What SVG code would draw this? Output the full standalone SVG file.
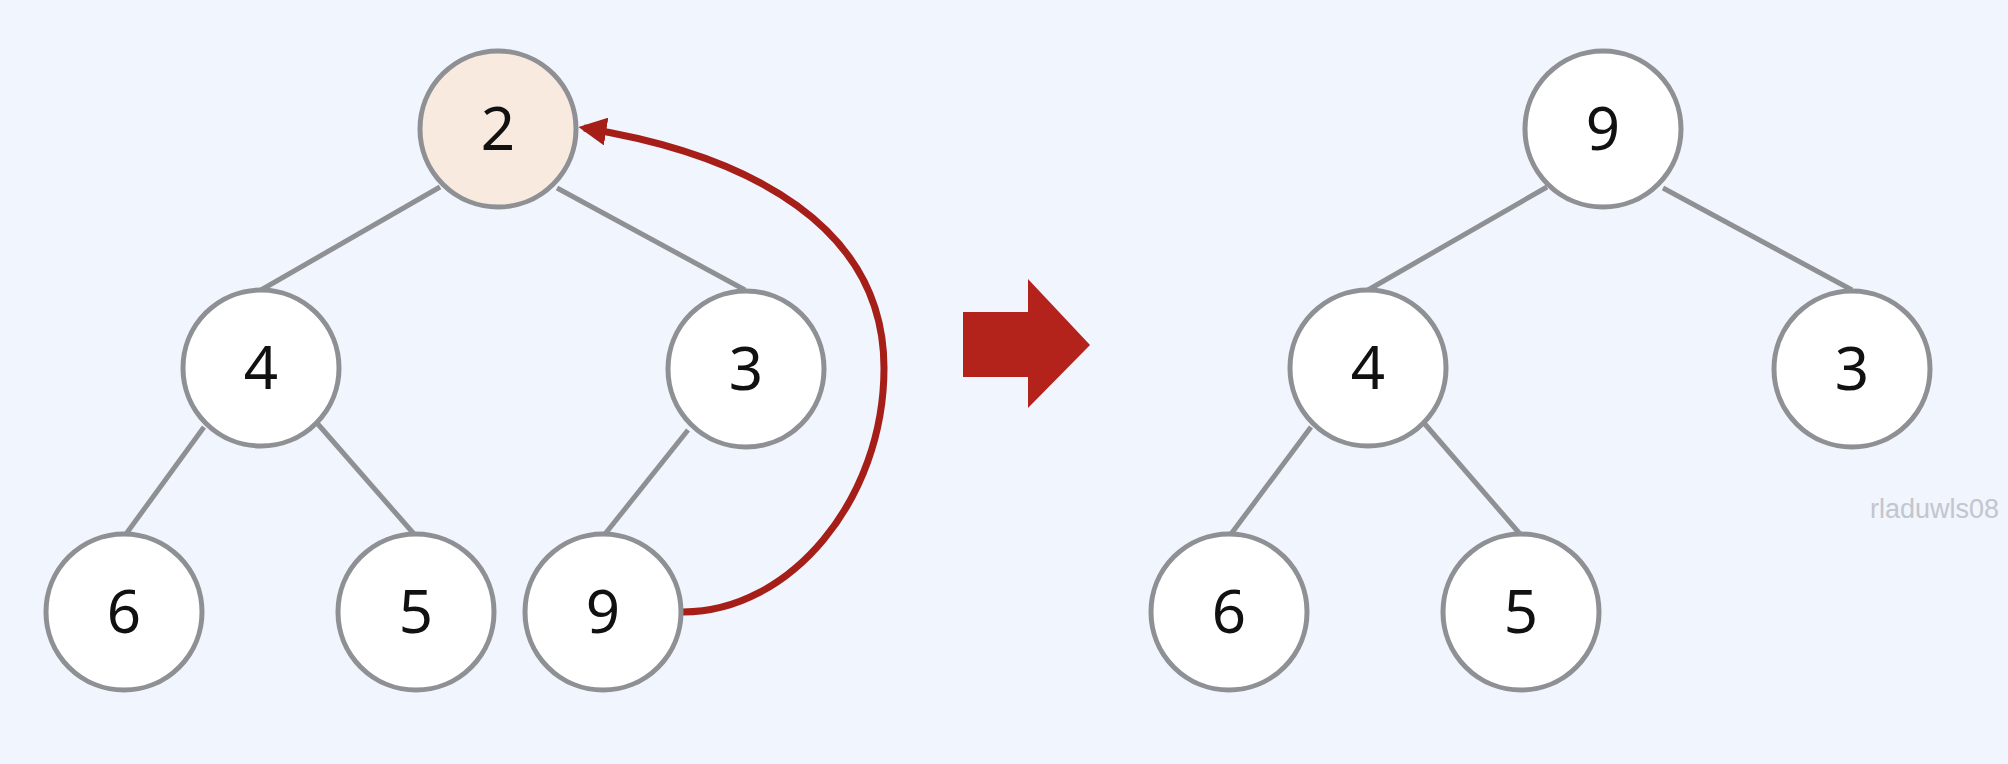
<svg xmlns="http://www.w3.org/2000/svg" width="2008" height="764" viewBox="0 0 2008 764">
<defs>
<style>
.edge{stroke:#8e9094;stroke-width:5;fill:none}
.node circle{fill:#ffffff;stroke:#8e9094;stroke-width:5}
.node.hl circle{fill:#f8eadf}
.node text{font-family:"Noto Sans","DejaVu Sans",sans-serif;font-size:60px;fill:#111;text-anchor:middle}
.wm{font-family:"Liberation Sans",Arial,sans-serif;font-size:27px;fill:#c3c6cc}
</style>
<marker id="ah" viewBox="0 0 10 10" refX="8" refY="5" markerWidth="4" markerHeight="4" markerUnits="strokeWidth" orient="auto">
<path d="M0,0 L10,5 L0,10 Z" fill="#a61e18"/>
</marker>
</defs>
<rect width="2008" height="764" fill="#f0f5fe"/>
<g id="connectors">
<line class="edge" x1="440" y1="187" x2="261" y2="290"/>
<line class="edge" x1="557" y1="188" x2="745" y2="290"/>
<line class="edge" x1="204" y1="427" x2="126" y2="534"/>
<line class="edge" x1="317" y1="423" x2="414" y2="534"/>
<line class="edge" x1="688" y1="430" x2="605" y2="534"/>
<line class="edge" x1="1547" y1="187" x2="1368" y2="290"/>
<line class="edge" x1="1663" y1="188" x2="1852" y2="290"/>
<line class="edge" x1="1311" y1="427" x2="1231" y2="534"/>
<line class="edge" x1="1424" y1="423" x2="1520" y2="534"/>
<path d="M683,612 C790,612 884,500 884,368 C884,228 752,155 584,128" fill="none" stroke="#a61e18" stroke-width="7" marker-end="url(#ah)"/>
</g>
<g id="n2" class="node hl"><circle cx="498" cy="129" r="78"/><text x="498" y="150">2</text></g>
<g id="n4" class="node"><circle cx="261" cy="368" r="78"/><text x="261" y="389">4</text></g>
<g id="n3" class="node"><circle cx="746" cy="369" r="78"/><text x="746" y="390">3</text></g>
<g id="n6" class="node"><circle cx="124" cy="612" r="78"/><text x="124" y="633">6</text></g>
<g id="n5" class="node"><circle cx="416" cy="612" r="78"/><text x="416" y="633">5</text></g>
<g id="n9" class="node"><circle cx="603" cy="612" r="78"/><text x="603" y="633">9</text></g>
<g id="arrow"><path d="M963,312 L1028,312 L1028,279 L1090,345 L1028,408 L1028,377 L963,377 Z" fill="#b3231c"/></g>
<g id="r9" class="node"><circle cx="1603" cy="129" r="78"/><text x="1603" y="150">9</text></g>
<g id="r4" class="node"><circle cx="1368" cy="368" r="78"/><text x="1368" y="389">4</text></g>
<g id="r3" class="node"><circle cx="1852" cy="369" r="78"/><text x="1852" y="390">3</text></g>
<g id="r6" class="node"><circle cx="1229" cy="612" r="78"/><text x="1229" y="633">6</text></g>
<g id="r5" class="node"><circle cx="1521" cy="612" r="78"/><text x="1521" y="633">5</text></g>
<text class="wm" x="1870" y="518">rladuwls08</text>
</svg>
